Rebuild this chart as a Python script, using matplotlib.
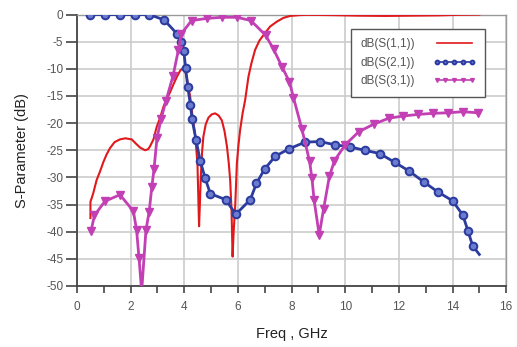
import matplotlib
matplotlib.use("Agg")
import matplotlib.pyplot as plt
import numpy as np

plt.rcParams["font.family"] = ["Liberation Sans", "DejaVu Sans"]
plt.rcParams["axes.unicode_minus"] = False

# S11 (red, no markers)
f_s11 = [0.5, 0.5, 0.6, 0.73, 0.85, 0.98, 1.1, 1.23, 1.4, 1.6, 1.8, 2.04, 2.2, 2.35, 2.54,
         2.65, 2.72, 2.85, 2.97, 3.1, 3.22, 3.35, 3.47, 3.6, 3.72, 3.85, 3.94, 4.02, 4.09,
         4.16, 4.22, 4.3, 4.4, 4.49, 4.55, 4.58, 4.61, 4.66, 4.71, 4.8, 4.9, 5.02, 5.15,
         5.28, 5.4, 5.5, 5.59, 5.66, 5.71, 5.76, 5.8, 5.84, 5.9, 5.96, 6.02, 6.08, 6.17,
         6.27, 6.39, 6.5, 6.64, 6.8, 7.01, 7.2, 7.45, 7.7, 7.95, 8.3, 8.6, 9.5, 10.5, 11.5,
         12.5, 13.5, 14.2, 15.0]
s11 = [-37.5, -34.5, -33, -30.5, -29, -27.2, -25.8, -24.6, -23.5, -23, -22.8, -23, -23.8,
       -24.5, -25, -24.8, -24.3, -23, -20.7, -19, -17, -15.5, -14.3, -12.8, -11.5, -10.3,
       -9.9, -10.3, -11.5, -13.5, -15.2, -18.5, -22, -27.4, -39, -35, -30.5, -25.5, -22.5,
       -20.2, -19, -18.4, -18.2, -18.6, -19.5, -21.5, -24.3, -27.5, -30.5, -36, -44.6, -40,
       -35, -27.4, -24, -21.3, -18.3, -15.7, -11.5, -9, -6.5, -4.8, -3.4, -2.2, -1.3, -0.6,
       -0.25, -0.1, -0.05, -0.1, -0.2, -0.25, -0.2, -0.15, -0.05, 0.0]

# S21 (blue, circles)
f_s21 = [0.5, 1.05, 1.6, 2.15, 2.7, 3.25, 3.74, 3.86, 3.98, 4.05, 4.13, 4.23, 4.29, 4.44,
         4.59, 4.78, 4.97, 5.54, 5.92, 6.46, 6.69, 6.99, 7.39, 7.92, 8.51, 9.05, 9.63,
         10.19, 10.72, 11.28, 11.84, 12.37, 12.92, 13.46, 14.0, 14.38, 14.58, 14.75, 15.0]
s21 = [0, 0, 0, 0, 0, -1, -3.6, -5.1, -6.7, -9.9, -13.4, -16.7, -19.3, -23.2, -26.9,
       -30.2, -33, -34.1, -36.8, -34.1, -31.1, -28.5, -26.1, -24.7, -23.5, -23.4, -24,
       -24.4, -25, -25.6, -27.2, -28.8, -30.8, -32.7, -34.3, -36.9, -39.9, -42.6, -44.2]

# S31 (magenta, down triangles)
f_s31 = [0.52, 0.65, 1.04, 1.6, 2.1, 2.22, 2.31, 2.41, 2.57, 2.69, 2.79, 2.87, 2.98, 3.13,
         3.31, 3.58, 3.78, 3.88, 4.27, 4.85, 5.42, 5.96, 6.48, 7.03, 7.33, 7.64, 7.92, 8.07,
         8.38, 8.67, 8.76, 8.84, 9.03, 9.19, 9.41, 9.6, 10.0, 10.5, 11.06, 11.62, 12.15,
         12.71, 13.27, 13.82, 14.38, 14.95]
s31 = [-39.9, -37, -34.4, -33.2, -36.2, -39.7, -44.8, -51, -39.7, -36.3, -31.7, -28.5,
       -22.8, -19.3, -16, -11.3, -6.5, -3.6, -1.1, -0.7, -0.5, -0.5, -1.1, -3.8, -6.4,
       -9.6, -12.4, -15.3, -21, -27, -30.2, -34.2, -40.6, -35.9, -29.8, -26.9, -24, -21.6,
       -20.2, -19.1, -18.7, -18.4, -18.2, -18.1, -17.9, -18.1]

RED, BLUE, MAG = "#e0191c", "#2b3b9e", "#c23fb4"
TXT = "#555555"

fig = plt.figure(figsize=(5.17, 3.47), dpi=100)
ax = fig.add_axes([0.149, 0.176, 0.83, 0.782])

ax.plot(f_s11, s11, color=RED, lw=1.5, label="dB(S(1,1))", zorder=3)
ax.plot(f_s21, s21, color=BLUE, lw=2, marker="o", ms=5.5, mfc="#6a7bd0", mec=BLUE,
        mew=1.4, markevery=list(range(len(f_s21) - 1)), label="dB(S(2,1))", zorder=4)
mag_idx = [i for i in range(len(f_s31)) if s31[i] > -50]
ax.plot(f_s31, s31, color=MAG, lw=2, marker="v", ms=5.5, mfc=MAG, mec=MAG,
        markevery=mag_idx, label="dB(S(3,1))", zorder=4)

ax.set_xlim(0, 16)
ax.set_ylim(-50, 0)
ax.set_xticks(np.arange(0, 17, 2))
ax.set_xticks(np.arange(1, 16, 2), minor=True)
ax.set_yticks(np.arange(-50, 1, 5))
ax.grid(True, which="major", color="#cccccc", lw=1.2)
ax.set_axisbelow(True)
ax.tick_params(axis="both", which="both", direction="out", colors="#444444",
               labelcolor=TXT, labelsize=8.5, width=1.2)
ax.tick_params(axis="y", length=8, pad=2)
ax.tick_params(axis="x", which="both", length=5, pad=6)

for side in ["left", "bottom"]:
    ax.spines[side].set_color("#444444")
    ax.spines[side].set_linewidth(1.3)
for side in ["top", "right"]:
    ax.spines[side].set_color("#999999")
    ax.spines[side].set_linewidth(1.0)

ax.set_xlabel("Freq , GHz", fontsize=10.5, color="#222222", labelpad=10)
ax.set_ylabel("S-Parameter (dB)", fontsize=10.5, color="#222222", labelpad=12)

leg = ax.legend(loc="upper left", bbox_to_anchor=(0.639, 0.947), markerfirst=False,
                fontsize=8.5, labelcolor=TXT, numpoints=5, markerscale=0.5,
                handlelength=3.6, fancybox=False, framealpha=1, edgecolor="#555555",
                borderpad=0.8, labelspacing=0.55, handletextpad=1.5, borderaxespad=0)
leg.get_frame().set_linewidth(1.0)
for line in leg.get_lines():
    line.set_linewidth(1.2)

fig.savefig("out.png", dpi=100)
